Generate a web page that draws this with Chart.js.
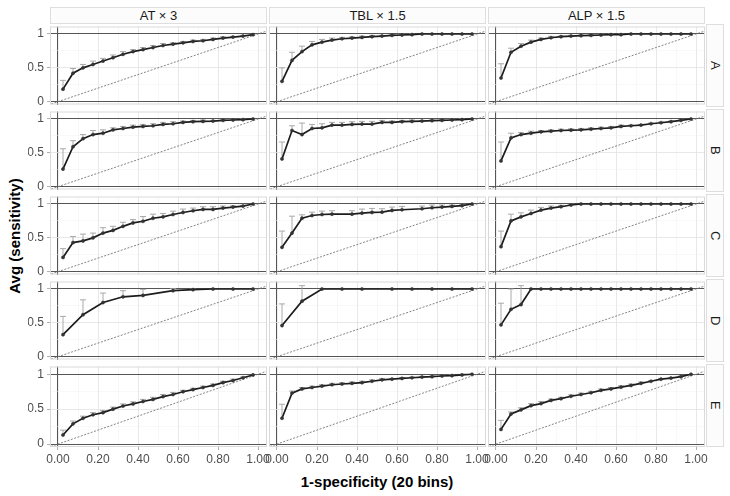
<!DOCTYPE html>
<html lang="en">
<head>
<meta charset="UTF-8" />
<title>Avg sensitivity vs 1-specificity</title>
<script src="https://cdn.jsdelivr.net/npm/chart.js"></script>
<style>
  body { margin: 0; background: #fff; font-family: "Liberation Sans", Arial, sans-serif; }
  #wrap { position: relative; width: 730px; height: 496px; overflow: hidden; }
  canvas { position: absolute; }
  .strip { position: absolute; box-sizing: border-box; border: 1px solid #dedede; background: #fcfcfc;
           color: #1a1a1a; font-size: 13px; display: flex; align-items: center; justify-content: center; }
  .strip.side span { writing-mode: vertical-rl; }
  .title { position: absolute; font-weight: bold; font-size: 15px; color: #000; white-space: nowrap; }
</style>
</head>
<body>
<div id="wrap">
  <div class="title" style="left:377px; top:481px; transform: translate(-50%,-50%);">1-specificity (20 bins)</div>
  <div class="title" style="left:14px; top:236px; transform: translate(-50%,-50%) rotate(-90deg);">Avg (sensitivity)</div>
</div>
<script>
  // facet labels
  const colNames = ['AT × 3', 'TBL × 1.5', 'ALP × 1.5'];
  const rowNames = ['A', 'B', 'C', 'D', 'E'];

  // axis breaks
  const xMajor = [0, 0.2, 0.4, 0.6, 0.8, 1.0];
  const xMinor = [0.1, 0.3, 0.5, 0.7, 0.9];
  const yMajor = [0, 0.5, 1];
  const yMinor = [0.25, 0.75];

  // bin centres (20 bins)
  const bins = [0.025, 0.075, 0.125, 0.175, 0.225, 0.275, 0.325, 0.375, 0.425, 0.475,
                0.525, 0.575, 0.625, 0.675, 0.725, 0.775, 0.825, 0.875, 0.925, 0.975];
  const tblCx = [0.025, 0.075, 0.125, 0.175, 0.225, 0.275, 0.375, 0.425, 0.475,
                 0.525, 0.575, 0.625, 0.725, 0.775, 0.825, 0.875, 0.925, 0.975];
  const sparseX = [0.025, 0.125, 0.225, 0.325, 0.425, 0.575, 0.675, 0.775, 0.875, 0.975];

  // avg sensitivity + upper error per panel
  const atA = [0.185, 0.42, 0.50, 0.55, 0.60, 0.65, 0.70, 0.74, 0.77, 0.80, 0.83, 0.85, 0.87, 0.89, 0.90, 0.92, 0.94, 0.955, 0.97, 0.99];
  const atAErr = [0.13, 0.07, 0.05, 0.05, 0.04, 0.04, 0.04, 0.03, 0.03, 0.03, 0.03, 0.02, 0.02, 0.02, 0.02, 0.02, 0.02, 0.01, 0.01, 0];
  const tblA = [0.30, 0.61, 0.74, 0.84, 0.88, 0.91, 0.93, 0.94, 0.95, 0.96, 0.97, 0.98, 0.985, 0.99, 1, 1, 1, 1, 1, 1];
  const tblAErr = [0.20, 0.12, 0.08, 0.05, 0.04, 0.03, 0.02, 0.02, 0.02, 0.02, 0.01, 0.01, 0.01, 0.01, 0, 0, 0, 0, 0, 0];
  const alpA = [0.35, 0.73, 0.82, 0.88, 0.92, 0.945, 0.96, 0.97, 0.975, 0.98, 0.985, 0.99, 0.99, 1, 1, 1, 1, 1, 1, 1];
  const alpAErr = [0.21, 0.06, 0.04, 0.03, 0.02, 0.02, 0.01, 0.01, 0.01, 0.01, 0.01, 0.01, 0.01, 0, 0, 0, 0, 0, 0, 0];

  const atB = [0.26, 0.59, 0.71, 0.77, 0.79, 0.84, 0.86, 0.88, 0.89, 0.90, 0.92, 0.93, 0.95, 0.96, 0.965, 0.97, 0.98, 0.985, 0.99, 1.0];
  const atBErr = [0.30, 0.09, 0.06, 0.06, 0.05, 0.03, 0.03, 0.03, 0.03, 0.03, 0.03, 0.03, 0.02, 0.02, 0.02, 0.01, 0.01, 0.01, 0.01, 0];
  const tblB = [0.41, 0.83, 0.77, 0.86, 0.87, 0.91, 0.91, 0.92, 0.925, 0.925, 0.95, 0.95, 0.96, 0.965, 0.97, 0.975, 0.98, 0.985, 0.99, 1.0];
  const tblBErr = [0.25, 0.07, 0.17, 0.06, 0.06, 0.04, 0.04, 0.04, 0.04, 0.04, 0.03, 0.02, 0.02, 0.02, 0.01, 0.01, 0.01, 0.01, 0.01, 0];
  const alpB = [0.38, 0.72, 0.77, 0.79, 0.81, 0.82, 0.83, 0.835, 0.84, 0.85, 0.86, 0.87, 0.89, 0.90, 0.91, 0.93, 0.945, 0.96, 0.98, 1.0];
  const alpBErr = [0.28, 0.07, 0.03, 0.03, 0.02, 0.02, 0.02, 0.02, 0.02, 0.02, 0.02, 0.02, 0.02, 0.01, 0.01, 0.01, 0.01, 0.01, 0.01, 0];

  const atC = [0.21, 0.43, 0.455, 0.50, 0.57, 0.61, 0.67, 0.72, 0.745, 0.79, 0.81, 0.845, 0.875, 0.90, 0.92, 0.92, 0.94, 0.955, 0.97, 1.0];
  const atCErr = [0.13, 0.09, 0.10, 0.07, 0.08, 0.06, 0.06, 0.05, 0.07, 0.06, 0.05, 0.05, 0.05, 0.04, 0.04, 0.04, 0.03, 0.02, 0.01, 0];
  const tblC = [0.36, 0.57, 0.79, 0.83, 0.845, 0.85, 0.85, 0.865, 0.875, 0.88, 0.905, 0.915, 0.93, 0.945, 0.955, 0.965, 0.975, 1.0];
  const tblCErr = [0.24, 0.25, 0.05, 0.05, 0.05, 0.05, 0.05, 0.06, 0.06, 0.05, 0.05, 0.05, 0.04, 0.04, 0.03, 0.02, 0.02, 0];
  const alpC = [0.37, 0.75, 0.81, 0.86, 0.91, 0.94, 0.96, 0.985, 1, 1, 1, 1, 1, 1, 1, 1, 1, 1, 1, 1];
  const alpCErr = [0.23, 0.10, 0.06, 0.05, 0.04, 0.03, 0.02, 0.01, 0, 0, 0, 0, 0, 0, 0, 0, 0, 0, 0, 0];

  const atD = [0.325, 0.62, 0.80, 0.885, 0.905, 0.975, 0.99, 1, 1, 1];
  const atDErr = [0.27, 0.22, 0.14, 0.09, 0.09, 0.03, 0.01, 0, 0, 0];
  const tblD = [0.46, 0.82, 1, 1, 1, 1, 1, 1, 1, 1];
  const tblDErr = [0.32, 0.23, 0, 0, 0, 0, 0, 0, 0, 0];
  const alpD = [0.47, 0.70, 0.77, 1, 1, 1, 1, 1, 1, 1, 1, 1, 1, 1, 1, 1, 1, 1, 1, 1];
  const alpDErr = [0.32, 0.30, 0.28, 0, 0, 0, 0, 0, 0, 0, 0, 0, 0, 0, 0, 0, 0, 0, 0, 0];

  const atE = [0.13, 0.29, 0.37, 0.42, 0.45, 0.50, 0.545, 0.575, 0.61, 0.64, 0.68, 0.71, 0.75, 0.78, 0.81, 0.84, 0.88, 0.91, 0.95, 0.99];
  const atEErr = [0.07, 0.04, 0.03, 0.03, 0.03, 0.03, 0.03, 0.03, 0.03, 0.03, 0.03, 0.03, 0.02, 0.02, 0.02, 0.02, 0.02, 0.02, 0.01, 0];
  const tblE = [0.37, 0.73, 0.79, 0.81, 0.83, 0.85, 0.86, 0.87, 0.88, 0.90, 0.92, 0.93, 0.94, 0.95, 0.96, 0.965, 0.975, 0.98, 0.99, 1.0];
  const tblEErr = [0.20, 0.03, 0.02, 0.02, 0.02, 0.02, 0.02, 0.02, 0.02, 0.02, 0.02, 0.01, 0.01, 0.01, 0.01, 0.01, 0.01, 0.01, 0.01, 0];
  const alpE = [0.21, 0.43, 0.49, 0.55, 0.58, 0.625, 0.65, 0.685, 0.71, 0.735, 0.77, 0.79, 0.815, 0.84, 0.87, 0.90, 0.93, 0.945, 0.965, 1.0];
  const alpEErr = [0.13, 0.03, 0.03, 0.03, 0.03, 0.02, 0.02, 0.02, 0.02, 0.02, 0.02, 0.02, 0.02, 0.02, 0.02, 0.01, 0.01, 0.01, 0.01, 0];

  const panels = [
    [[bins, atA, atAErr], [bins, tblA, tblAErr], [bins, alpA, alpAErr]],
    [[bins, atB, atBErr], [bins, tblB, tblBErr], [bins, alpB, alpBErr]],
    [[bins, atC, atCErr], [tblCx, tblC, tblCErr], [bins, alpC, alpCErr]],
    [[sparseX, atD, atDErr], [sparseX, tblD, tblDErr], [bins, alpD, alpDErr]],
    [[bins, atE, atEErr], [bins, tblE, tblEErr], [bins, alpE, alpEErr]]
  ];

  // layout
  const PW = 217, PH = 83;
  const colLeft = [50, 269, 488];
  const rowTop = [24, 109, 194, 279, 364];
  const xMin = -0.04, xMax = 1.045, yMin = -0.042, yMax = 1.111;
  const FONT = { family: '"Liberation Sans", Arial, sans-serif', size: 12 };

  const wrap = document.getElementById('wrap');

  colNames.forEach((t, c) => {
    const d = document.createElement('div');
    d.className = 'strip';
    d.style.cssText = `left:${colLeft[c]}px; top:7px; width:${PW}px; height:17px;`;
    d.textContent = t;
    wrap.appendChild(d);
  });
  rowNames.forEach((t, r) => {
    const d = document.createElement('div');
    d.className = 'strip side';
    d.style.cssText = `left:${colLeft[2] + PW + 1}px; top:${rowTop[r]}px; width:18px; height:${PH}px;`;
    d.innerHTML = `<span>${t}</span>`;
    wrap.appendChild(d);
  });

  const near = (a, b) => Math.abs(a - b) < 1e-6;
  const isIn = (arr, v) => arr.some(a => near(a, v));

  // error bars (upper whisker + cap), drawn right after the diagonal
  const errorBars = {
    id: 'errorBars',
    afterDatasetDraw(chart, args) {
      if (args.index !== 1) return;
      const ds = chart.data.datasets[0];
      const { ctx, chartArea: a, scales: { x, y } } = chart;
      ctx.save();
      ctx.beginPath(); ctx.rect(a.left, a.top, a.width, a.height); ctx.clip();
      ctx.strokeStyle = '#a0a0a0';
      ctx.lineWidth = 0.9;
      ds.data.forEach((p, i) => {
        const e = ds.err[i];
        if (!e) return;
        const px = x.getPixelForValue(p.x);
        const y0 = y.getPixelForValue(p.y);
        const y1 = y.getPixelForValue(p.y + e);
        ctx.beginPath();
        ctx.moveTo(px, y0); ctx.lineTo(px, y1);
        ctx.moveTo(px - 3, y1); ctx.lineTo(px + 3, y1);
        ctx.stroke();
      });
      ctx.restore();
    },
    afterDraw(chart) {
      const { ctx, chartArea: a } = chart;
      ctx.save();
      ctx.strokeStyle = '#d9d9d9';
      ctx.lineWidth = 1;
      ctx.strokeRect(a.left + 0.5, a.top + 0.5, a.width - 1, a.height - 1);
      ctx.restore();
    }
  };

  panels.forEach((row, r) => row.forEach(([xs, ys, es], c) => {
    const left = c === 0, bottom = r === rowTop.length - 1;
    const yW = left ? 22 : 0, xH = bottom ? 20 : 0;
    const padL = left ? 4 : 14, padR = 14, padT = 2, padB = bottom ? 4 : 2;
    const cv = document.createElement('canvas');
    cv.width = PW + yW + padL + padR;
    cv.height = PH + xH + padT + padB;
    cv.style.left = (colLeft[c] - yW - padL) + 'px';
    cv.style.top = (rowTop[r] - padT) + 'px';
    wrap.appendChild(cv);

    new Chart(cv, {
      type: 'line',
      data: {
        datasets: [
          {
            data: xs.map((x, i) => ({ x, y: ys[i] })),
            err: es,
            borderColor: '#1c1c1c',
            borderWidth: 1.7,
            pointRadius: 1.6,
            pointBackgroundColor: '#333',
            pointBorderColor: '#333',
            pointBorderWidth: 0.5,
            tension: 0
          },
          {
            data: [{ x: -0.2, y: -0.2 }, { x: 1.3, y: 1.3 }],
            borderColor: '#777',
            borderWidth: 0.9,
            borderDash: [2, 1.5],
            pointRadius: 0
          }
        ]
      },
      options: {
        responsive: false,
        animation: false,
        devicePixelRatio: 1,
        layout: { padding: { left: padL, right: padR, top: padT, bottom: padB } },
        plugins: { legend: { display: false }, tooltip: { enabled: false } },
        scales: {
          x: {
            type: 'linear', min: xMin, max: xMax,
            afterBuildTicks: s => { s.ticks = xMajor.concat(xMinor).sort((a, b) => a - b).map(v => ({ value: v })); },
            afterFit: s => { s.height = xH; s.paddingLeft = 0; s.paddingRight = 0; },
            border: { display: false },
            grid: {
              drawTicks: bottom,
              tickLength: 3,
              color: ctx => near(ctx.tick.value, 0) ? '#555' : (isIn(xMajor, ctx.tick.value) ? '#e2e2e2' : '#f0f0f0'),
              lineWidth: ctx => near(ctx.tick.value, 0) ? 1.1 : (isIn(xMajor, ctx.tick.value) ? 0.8 : 0.5),
              tickColor: ctx => isIn(xMajor, ctx.tick.value) ? '#999' : 'rgba(0,0,0,0)',
              tickWidth: 0.8
            },
            ticks: {
              display: bottom, padding: 2, color: '#4d4d4d', font: FONT,
              maxRotation: 0, autoSkip: false,
              callback: v => isIn(xMajor, v) ? v.toFixed(2) : ''
            }
          },
          y: {
            type: 'linear', min: yMin, max: yMax,
            afterBuildTicks: s => { s.ticks = yMajor.concat(yMinor).sort((a, b) => a - b).map(v => ({ value: v })); },
            afterFit: s => { s.width = yW; s.paddingTop = 0; s.paddingBottom = 0; },
            border: { display: false },
            grid: {
              drawTicks: left,
              tickLength: 3,
              color: ctx => (near(ctx.tick.value, 0) || near(ctx.tick.value, 1)) ? '#555' : (isIn(yMajor, ctx.tick.value) ? '#e2e2e2' : '#f0f0f0'),
              lineWidth: ctx => (near(ctx.tick.value, 0) || near(ctx.tick.value, 1)) ? 1.1 : (isIn(yMajor, ctx.tick.value) ? 0.8 : 0.5),
              tickColor: ctx => isIn(yMajor, ctx.tick.value) ? '#999' : 'rgba(0,0,0,0)',
              tickWidth: 0.8
            },
            ticks: {
              display: left, padding: 3, color: '#4d4d4d', font: FONT,
              callback: v => isIn(yMajor, v) ? String(v) : ''
            }
          }
        }
      },
      plugins: [errorBars]
    });
  }));
</script>
</body>
</html>
